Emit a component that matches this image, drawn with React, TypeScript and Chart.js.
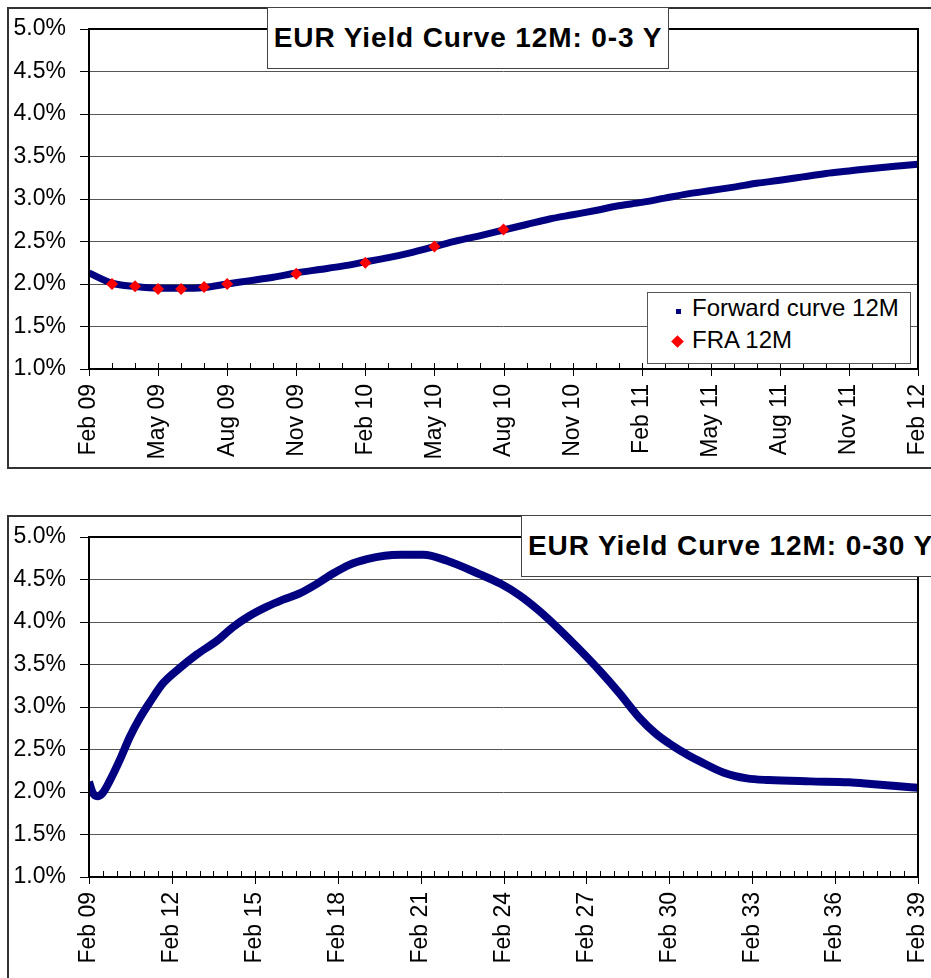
import React, { useEffect, useRef } from 'react';
import { Chart, registerables } from 'chart.js';

Chart.register(...registerables);

// ---------- DATA ----------
const topTickLabels = ['Feb 09', 'May 09', 'Aug 09', 'Nov 09', 'Feb 10', 'May 10', 'Aug 10', 'Nov 10', 'Feb 11', 'May 11', 'Aug 11', 'Nov 11', 'Feb 12'];
// monthly forward 12M rate, index = months after Feb 09
const topForward = [
  2.13, 2.01, 1.97, 1.95, 1.95, 1.96, 2.0, 2.04, 2.08, 2.13, 2.17, 2.21,
  2.26, 2.31, 2.37, 2.44, 2.51, 2.57, 2.635, 2.7, 2.765, 2.815, 2.865, 2.92,
  2.96, 3.01, 3.06, 3.1, 3.14, 3.185, 3.22, 3.26, 3.3, 3.33, 3.36, 3.385, 3.41,
];
const fraMonths = [1, 2, 3, 4, 5, 6, 9, 12, 15, 18];
const fraRates = [2.0, 1.975, 1.94, 1.94, 1.965, 2.0, 2.12, 2.25, 2.44, 2.64];

const bottomTickLabels = ['Feb 09', 'Feb 12', 'Feb 15', 'Feb 18', 'Feb 21', 'Feb 24', 'Feb 27', 'Feb 30', 'Feb 33', 'Feb 36', 'Feb 39'];
// years after Feb 09
const bottomYears = [
  0, 0.12, 0.3, 0.5, 0.75, 1.12, 1.48, 1.84, 2.21, 2.68, 3.29, 3.91, 4.63, 5.21, 5.8, 6.44, 7.0, 7.64,
  8.2, 8.83, 9.4, 10.06, 10.7, 11.3, 12.1, 12.96, 14.15, 14.9, 15.6, 16.3, 17.0, 17.77, 18.5, 19.2,
  19.9, 20.5, 21.14, 21.7, 22.11, 22.95, 23.81, 24.6, 26.1, 27.5, 28.3, 29.2, 30,
];
const bottomRates = [
  2.12, 2.0, 1.95, 1.99, 2.13, 2.38, 2.65, 2.87, 3.06, 3.28, 3.46, 3.62, 3.78, 3.94, 4.07, 4.18, 4.26, 4.34,
  4.44, 4.57, 4.67, 4.74, 4.78, 4.79, 4.79, 4.72, 4.56, 4.45, 4.31, 4.13, 3.92, 3.67, 3.42, 3.16,
  2.88, 2.69, 2.54, 2.43, 2.36, 2.23, 2.16, 2.14, 2.125, 2.115, 2.095, 2.07, 2.05,
];

const FONT = '"Liberation Sans", Arial, sans-serif';
const NAVY = '#000080';
const RED = '#ff0000';

// plot frame + excel-like minor/major x ticks
const frameTicks = {
  id: 'frameTicks',
  afterDraw(chart: any, _args: any, opts: any) {
    const { ctx, chartArea: a, scales } = chart;
    const x = scales.x;
    ctx.save();
    ctx.strokeStyle = '#000';
    ctx.lineWidth = 1;
    const n = Math.round((x.max - x.min) / opts.minor);
    for (let i = 0; i <= n; i++) {
      const v = x.min + i * opts.minor;
      const px = Math.round(x.getPixelForValue(v)) + 0.5;
      const major = i % opts.ratio === 0;
      ctx.beginPath();
      ctx.moveTo(px, a.bottom - 6);
      ctx.lineTo(px, a.bottom + (major ? 7 : 0));
      ctx.stroke();
    }
    ctx.lineWidth = 2;
    ctx.strokeRect(a.left, a.top, a.right - a.left, a.bottom - a.top);
    ctx.restore();
  },
};

function makeOptions(xMax: number, labels: string[], minor: number, ratio: number, xHeight: number) {
  return {
    responsive: false,
    animation: false,
    layout: { padding: { top: 22, right: 13, left: 0, bottom: 0 } },
    plugins: {
      legend: { display: false },
      title: { display: false },
      tooltip: { enabled: false },
      frameTicks: { minor, ratio },
    },
    scales: {
      x: {
        type: 'linear',
        min: 0,
        max: xMax,
        ticks: {
          stepSize: 3,
          autoSkip: false,
          maxRotation: 90,
          minRotation: 90,
          padding: 15,
          color: '#000',
          font: { family: FONT, size: 23 },
          callback: (v: any) => labels[Math.round(Number(v) / 3)] ?? '',
        },
        grid: { display: false, drawTicks: false },
        border: { display: false },
        afterFit: (s: any) => {
          s.height = xHeight;
          s.paddingLeft = 0;
          s.paddingRight = 0;
        },
      },
      y: {
        min: 1,
        max: 5,
        ticks: {
          stepSize: 0.5,
          padding: 14,
          color: '#000',
          font: { family: FONT, size: 23 },
          callback: (v: any) => Number(v).toFixed(1) + '%',
        },
        grid: { color: '#555', lineWidth: 1, tickColor: '#000', tickLength: 9 },
        border: { display: false },
        afterFit: (s: any) => {
          s.width = 82;
          s.paddingTop = 0;
          s.paddingBottom = 0;
        },
      },
    },
  } as any;
}

export default function App() {
  const topRef = useRef<HTMLCanvasElement>(null);
  const botRef = useRef<HTMLCanvasElement>(null);

  useEffect(() => {
    const top = new Chart(topRef.current as HTMLCanvasElement, {
      type: 'line',
      data: {
        datasets: [
          {
            label: 'FRA 12M',
            data: fraMonths.map((m, i) => ({ x: m, y: fraRates[i] })),
            showLine: false,
            pointStyle: 'rectRot',
            pointRadius: 6,
            backgroundColor: RED,
            borderColor: RED,
            borderWidth: 0,
            order: 1,
          },
          {
            label: 'Forward curve 12M',
            data: topForward.map((v, i) => ({ x: i, y: v })),
            borderColor: NAVY,
            backgroundColor: NAVY,
            borderWidth: 7,
            pointRadius: 0,
            cubicInterpolationMode: 'monotone',
            order: 2,
          },
        ],
      },
      options: makeOptions(36, topTickLabels, 1, 3, 99),
      plugins: [frameTicks],
    } as any);

    const bot = new Chart(botRef.current as HTMLCanvasElement, {
      type: 'line',
      data: {
        datasets: [
          {
            label: 'Forward curve 12M',
            data: bottomYears.map((t, i) => ({ x: t, y: bottomRates[i] })),
            borderColor: NAVY,
            backgroundColor: NAVY,
            borderWidth: 8,
            pointRadius: 0,
            cubicInterpolationMode: 'monotone',
          },
        ],
      },
      options: makeOptions(30, bottomTickLabels, 0.5, 6, 101),
      plugins: [frameTicks],
    } as any);

    return () => {
      top.destroy();
      bot.destroy();
    };
  }, []);

  const boxStyle: React.CSSProperties = {
    position: 'absolute',
    left: 7,
    width: 940,
    border: '2px solid #333',
    boxSizing: 'border-box',
    background: '#fff',
  };
  const titleStyle: React.CSSProperties = {
    position: 'absolute',
    height: 62,
    boxSizing: 'border-box',
    border: '1.5px solid #444',
    background: '#fff',
    display: 'flex',
    alignItems: 'center',
    whiteSpace: 'nowrap',
    fontWeight: 'bold',
    fontSize: 28,
    letterSpacing: '0.9px',
    color: '#000',
  };

  return (
    <div style={{ position: 'fixed', left: 0, top: 0, width: 931, height: 978, overflow: 'hidden', background: '#fff', fontFamily: FONT }}>
      <div style={{ ...boxStyle, top: 7, height: 462 }} />
      <canvas ref={topRef} width={924} height={461} style={{ position: 'absolute', left: 7, top: 7, width: 924, height: 461 }} />
      <div style={{ ...titleStyle, left: 267, top: 7, width: 402, justifyContent: 'center' }}>EUR Yield Curve 12M: 0-3 Y</div>
      <div style={{ position: 'absolute', left: 647, top: 292, width: 264, height: 72, boxSizing: 'border-box', border: '1px solid #555', background: '#fff', color: '#000', fontSize: 24 }}>
        <div style={{ position: 'absolute', left: 28, top: 16, width: 5, height: 5, background: NAVY }} />
        <div style={{ position: 'absolute', left: 44, top: 1, lineHeight: '28px', whiteSpace: 'nowrap' }}>Forward curve 12M</div>
        <div style={{ position: 'absolute', left: 25, top: 44, width: 9, height: 9, background: RED, transform: 'rotate(45deg)' }} />
        <div style={{ position: 'absolute', left: 44, top: 33, lineHeight: '28px', whiteSpace: 'nowrap' }}>FRA 12M</div>
      </div>

      <div style={{ ...boxStyle, top: 515, height: 480 }} />
      <canvas ref={botRef} width={924} height={463} style={{ position: 'absolute', left: 7, top: 515, width: 924, height: 463 }} />
      <div style={{ ...titleStyle, left: 521, top: 515, width: 440, paddingLeft: 6 }}>EUR Yield Curve 12M: 0-30 Y</div>
    </div>
  );
}
